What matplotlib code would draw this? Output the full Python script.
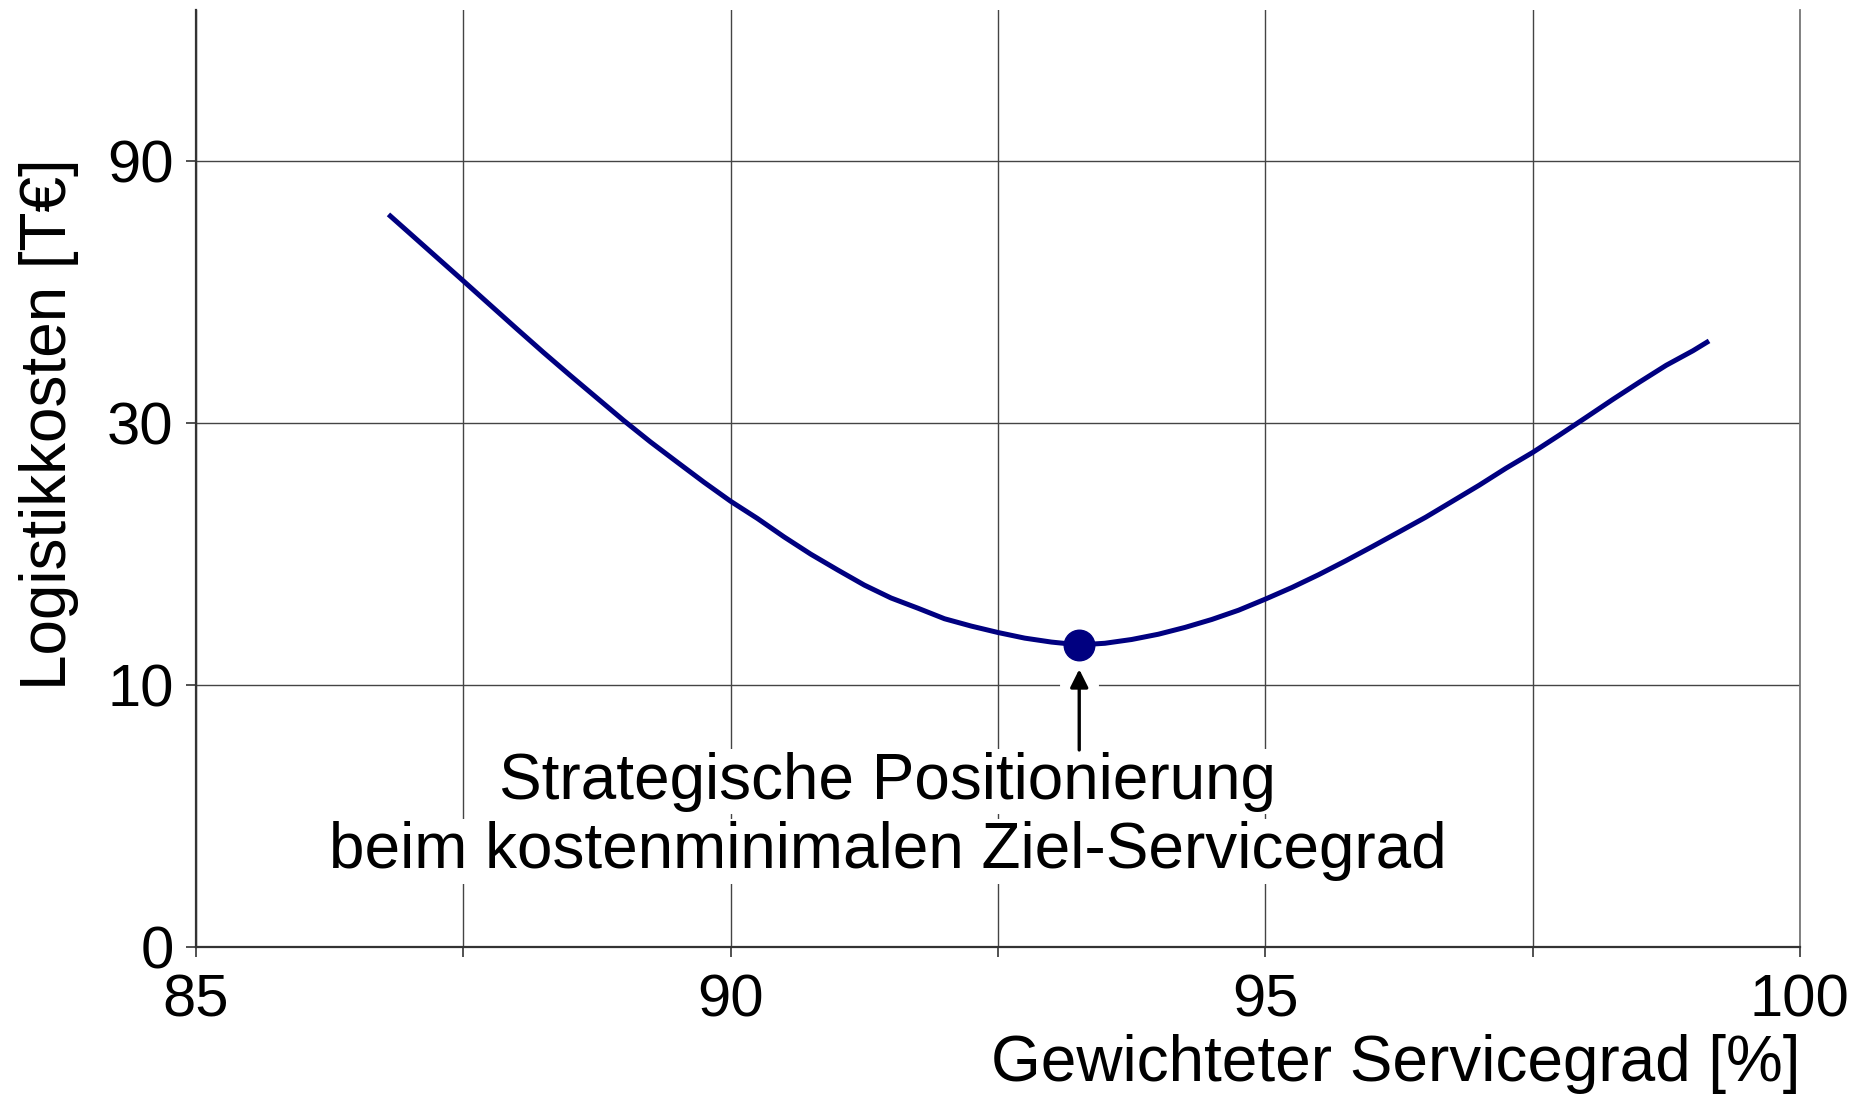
import numpy as np
import matplotlib
matplotlib.use("Agg")
import matplotlib.pyplot as plt

plt.rcParams.update({
    "font.family": ["Liberation Sans", "DejaVu Sans"],
    "figure.facecolor": "white",
    "axes.facecolor": "white",
})

# curve (service level %, cost T€)
service = [86.80, 87.00, 87.25, 87.50, 87.75, 88.00, 88.25, 88.50, 88.75,
           89.00, 89.25, 89.50, 89.75, 90.00, 90.25, 90.50, 90.75, 91.00,
           91.25, 91.50, 91.75, 92.00, 92.25, 92.50, 92.75, 93.00, 93.26,
           93.50, 93.75, 94.00, 94.25, 94.50, 94.75, 95.00, 95.25, 95.50,
           95.75, 96.00, 96.25, 96.50, 96.75, 97.00, 97.25, 97.50, 97.75,
           98.00, 98.25, 98.50, 98.75, 99.00, 99.15]
cost = [71.9, 66.4, 60.1, 54.4, 49.2, 44.5, 40.3, 36.6, 33.3,
        30.3, 27.7, 25.45, 23.4, 21.6, 20.1, 18.6, 17.3, 16.2,
        15.2, 14.4, 13.8, 13.2, 12.8, 12.46, 12.17, 11.97, 11.83,
        11.91, 12.10, 12.37, 12.73, 13.16, 13.68, 14.33, 15.05, 15.88,
        16.82, 17.86, 18.99, 20.2, 21.6, 23.1, 24.8, 26.5, 28.5,
        30.7, 33.1, 35.6, 38.2, 40.6, 42.3]
opt_service, opt_cost = 93.26, 11.83
label_lines = ["Strategische Positionierung",
               "beim kostenminimalen Ziel-Servicegrad"]

x_ticks = [85, 90, 95, 100]
x_minor = [87.5, 92.5, 97.5]
y_ticks = [0, 10, 30, 90]


def fwd(y):
    # 0..10 linear, above 10 each factor 3 takes one step
    y = np.asarray(y, dtype=float)
    return np.where(y < 10, y / 10.0,
                    1 + np.log(np.maximum(y, 1e-9) / 10.0) / np.log(3))


def inv(t):
    t = np.asarray(t, dtype=float)
    return np.where(t < 1, 10.0 * t, 10.0 * 3.0 ** (t - 1))


fig = plt.figure(figsize=(18.72, 10.97), dpi=100)
ax = fig.add_axes([0.1047, 0.1367, 0.8568, 0.8543])
ax.set_yscale("function", functions=(fwd, inv))

ax.plot(service, cost, color="#000080", lw=3.6, zorder=5,
        solid_capstyle="butt", solid_joinstyle="round")
ax.plot(opt_service, opt_cost, "o", color="#000080", ms=22, zorder=6)

ax.set_xlim(85, 100)
ax.set_ylim(0, float(inv(3.576)))
ax.set_xticks(x_ticks)
ax.set_xticks(x_minor, minor=True)
ax.set_yticks(y_ticks)
ax.set_yticklabels([str(v) for v in y_ticks])
ax.tick_params(axis="both", which="both", direction="out", length=7,
               width=1.2, color="#333333", labelsize=43)
ax.tick_params(axis="x", pad=12)
ax.tick_params(axis="y", pad=9)

ax.grid(True, which="both", color="#444444", lw=1.0)
ax.set_axisbelow(True)
ax.spines["top"].set_visible(False)
ax.spines["right"].set_color("#777777")
ax.spines["right"].set_linewidth(1.3)
for s in ("left", "bottom"):
    ax.spines[s].set_color("#333333")
    ax.spines[s].set_linewidth(1.6)

ax.set_ylabel("Logistikkosten [T€]", fontsize=46, labelpad=20, y=0.558)
ax.set_xlabel("Gewichteter Servicegrad [%]", fontsize=46,
              loc="right", labelpad=4)

box = dict(facecolor="white", edgecolor="none", pad=2)
ax.text(91.47, 6.3, label_lines[0], fontsize=46,
        ha="center", va="center", bbox=box, zorder=3)
ax.text(91.47, 3.65, label_lines[1], fontsize=46,
        ha="center", va="center", bbox=box, zorder=3)

# white band behind the arrow, cuts the grid line like in the original
ax.plot([opt_service, opt_service], [7.52, 10.68], color="white", lw=28,
        solid_capstyle="butt", zorder=2)
ax.annotate("", xy=(opt_service, 10.68), xytext=(opt_service, 7.52),
            arrowprops=dict(arrowstyle="-|>", color="black", lw=2.4,
                            mutation_scale=27, shrinkA=0, shrinkB=0),
            zorder=4)

fig.savefig("out.png", dpi=100)
